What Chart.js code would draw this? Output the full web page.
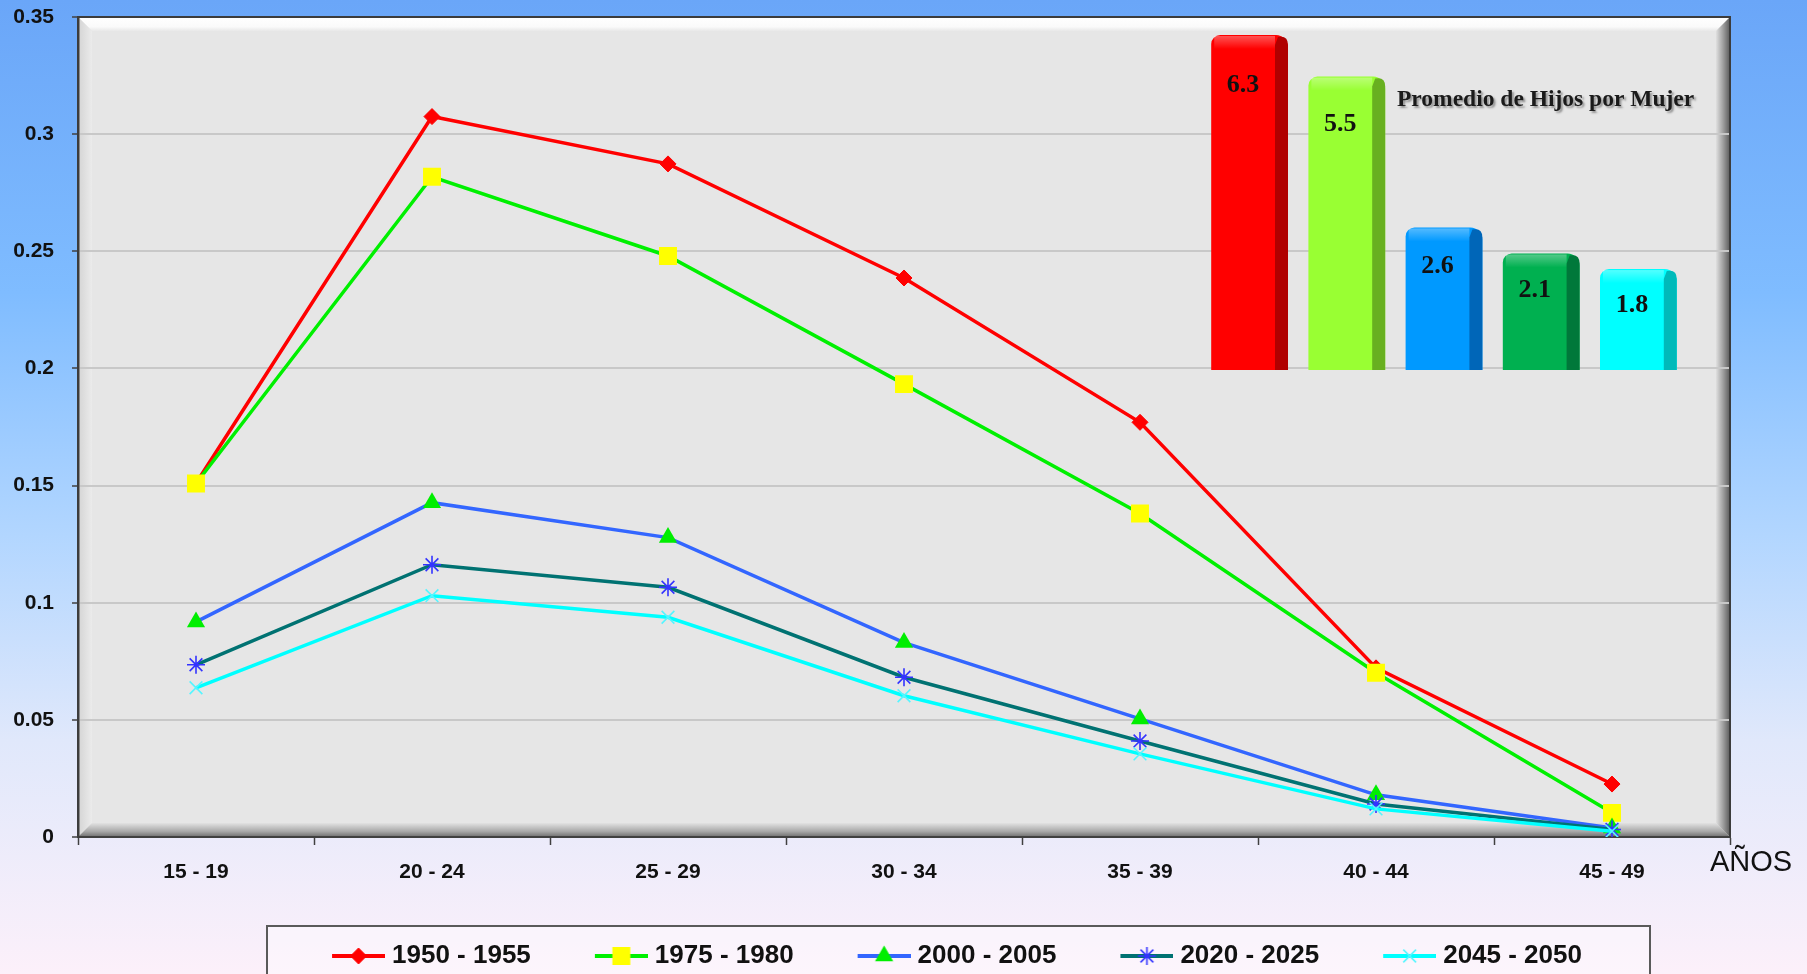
<!DOCTYPE html>
<html>
<head>
<meta charset="utf-8">
<title>Tasas de fecundidad por edad</title>
<script src="https://cdn.jsdelivr.net/npm/chart.js"></script>
<style>
    html, body {
        margin: 0;
        padding: 0;
    }
    body {
        width: 1807px;
        height: 974px;
        overflow: hidden;
        position: relative;
        background: linear-gradient(to bottom, #6aa6f8 0%, #7fbcff 30%, #b2d6ff 55%, #e0e8fb 76%, #fcf0fa 100%);
        font-family: "Liberation Sans", Arial, sans-serif;
    }
    #mainChart {
        position: absolute;
        left: 0;
        top: 0;
    }
    #insetChart {
        position: absolute;
        left: 1190px;
        top: 20px;
    }
</style>
</head>
<body>
<canvas id="mainChart" width="1807" height="974"></canvas>
<canvas id="insetChart" width="520" height="360"></canvas>
<script>
    // categories
    const ageGroups = ['15 - 19', '20 - 24', '25 - 29', '30 - 34', '35 - 39', '40 - 44', '45 - 49'];
    const periods = ['1950 - 1955', '1975 - 1980', '2000 - 2005', '2020 - 2025', '2045 - 2050'];

    // age specific fertility rates, one array per period
    const rates1950 = [0.151, 0.3075, 0.2873, 0.2386, 0.177, 0.0722, 0.0226];
    const rates1975 = [0.1509, 0.2818, 0.248, 0.1933, 0.1381, 0.0701, 0.0103];
    const rates2000 = [0.0918, 0.1427, 0.1278, 0.083, 0.0504, 0.018, 0.0038];
    const rates2020 = [0.0735, 0.1162, 0.1066, 0.0682, 0.041, 0.0141, 0.0032];
    const rates2045 = [0.0637, 0.103, 0.0938, 0.0603, 0.0355, 0.012, 0.0025];

    // y axis
    const yTickValues = [0, 0.05, 0.1, 0.15, 0.2, 0.25, 0.3, 0.35];

    // inset: average children per woman
    const avgChildren = [6.3, 5.5, 2.6, 2.1, 1.8];

    const seriesRates = [rates1950, rates1975, rates2000, rates2020, rates2045];
    const lineColors = ['#ff0000', '#00f000', '#3366ff', '#007272', '#00ffff'];
    const markerStyles = ['rectRot', 'rect', 'triangle', 'star', 'crossRot'];
    const markerSizes = [8, 12.7, 10.5, 9, 9];
    const markerFill = ['#ff0000', '#ffff00', '#00ee00', 'rgba(0,0,0,0)', 'rgba(0,0,0,0)'];
    const markerStroke = ['#ff0000', '#ffff00', '#00ee00', '#3333ff', '#55f5ff'];
    const markerBorder = [1, 0, 0, 1.6, 1.6];

    const barColors = ['#ff0000', '#99ff33', '#0099ff', '#00b050', '#00ffff'];
    const barSides = ['#b00000', '#68b020', '#0066b8', '#00783a', '#00baba'];

    const sansFont = '"Liberation Sans", Arial, sans-serif';
    const serifFont = '"Liberation Serif", "Times New Roman", serif';

    // small image (line + marker) used as the legend symbol
    function legendSymbol(i, boxWidth) {
        const c = document.createElement('canvas');
        c.width = boxWidth + 12;
        c.height = 28;
        const g = c.getContext('2d');
        const x0 = c.width - 53;
        g.strokeStyle = lineColors[i];
        g.lineWidth = 4;
        g.beginPath();
        g.moveTo(x0, 14);
        g.lineTo(c.width, 14);
        g.stroke();
        g.fillStyle = markerFill[i];
        g.strokeStyle = markerStroke[i];
        g.lineWidth = markerBorder[i] || 1;
        Chart.helpers.drawPoint(g, {
            pointStyle: markerStyles[i],
            radius: markerSizes[i],
            rotation: 0,
            borderWidth: markerBorder[i]
        }, x0 + 26.5, 14);
        return c;
    }

    const legendBoxWidth = 101;

    // 3D looking plot background, legend frame and the axis caption
    const framePlugin = {
        id: 'frame',
        beforeDraw(chart) {
            const ctx = chart.ctx;
            const a = chart.chartArea;
            const b = 14;
            ctx.save();
            ctx.fillStyle = '#e6e6e6';
            ctx.fillRect(a.left, a.top, a.right - a.left, a.bottom - a.top);

            let g = ctx.createLinearGradient(0, a.top, 0, a.top + b);
            g.addColorStop(0, '#ffffff');
            g.addColorStop(0.7, '#fafafa');
            g.addColorStop(1, '#e8e8e8');
            ctx.fillStyle = g;
            ctx.beginPath();
            ctx.moveTo(a.left, a.top);
            ctx.lineTo(a.right, a.top);
            ctx.lineTo(a.right - b, a.top + b);
            ctx.lineTo(a.left + b, a.top + b);
            ctx.closePath();
            ctx.fill();

            g = ctx.createLinearGradient(a.left, 0, a.left + b, 0);
            g.addColorStop(0, '#d4d4d4');
            g.addColorStop(1, '#ebebeb');
            ctx.fillStyle = g;
            ctx.beginPath();
            ctx.moveTo(a.left, a.top);
            ctx.lineTo(a.left + b, a.top + b);
            ctx.lineTo(a.left + b, a.bottom - b);
            ctx.lineTo(a.left, a.bottom);
            ctx.closePath();
            ctx.fill();

            g = ctx.createLinearGradient(0, a.bottom - b, 0, a.bottom);
            g.addColorStop(0, '#e2e2e2');
            g.addColorStop(0.6, '#a8a8a8');
            g.addColorStop(1, '#6e6e6e');
            ctx.fillStyle = g;
            ctx.beginPath();
            ctx.moveTo(a.left, a.bottom);
            ctx.lineTo(a.left + b, a.bottom - b);
            ctx.lineTo(a.right - b, a.bottom - b);
            ctx.lineTo(a.right, a.bottom);
            ctx.closePath();
            ctx.fill();

            g = ctx.createLinearGradient(a.right - b, 0, a.right, 0);
            g.addColorStop(0, '#e0e0e0');
            g.addColorStop(0.5, '#a0a0a0');
            g.addColorStop(1, '#5a5a5a');
            ctx.fillStyle = g;
            ctx.beginPath();
            ctx.moveTo(a.right, a.top);
            ctx.lineTo(a.right, a.bottom);
            ctx.lineTo(a.right - b, a.bottom - b);
            ctx.lineTo(a.right - b, a.top + b);
            ctx.closePath();
            ctx.fill();

            // legend frame
            ctx.fillStyle = 'rgba(255,255,255,0.35)';
            ctx.fillRect(267, 926, 1383, chart.height - 926);
            ctx.strokeStyle = '#5a5a5a';
            ctx.lineWidth = 2;
            ctx.strokeRect(267, 926, 1383, chart.height - 926 + 10);
            ctx.restore();
        },
        afterLayout(chart) {
            // legend sits a bit right of the page centre and slightly lower
            chart.legend.left += 65;
            chart.legend.right += 65;
            chart.legend.top += 5;
            chart.legend.bottom += 5;
        },
        afterDraw(chart) {
            const ctx = chart.ctx;
            const a = chart.chartArea;
            ctx.save();
            ctx.strokeStyle = '#3c3c3c';
            ctx.lineWidth = 2;
            ctx.beginPath();
            ctx.moveTo(a.left, a.top);
            ctx.lineTo(a.right, a.top);
            ctx.lineTo(a.right, a.bottom);
            ctx.stroke();
            ctx.fillStyle = '#111';
            ctx.font = '29px ' + sansFont;
            ctx.textBaseline = 'middle';
            ctx.textAlign = 'left';
            ctx.fillText('AÑOS', a.right - 20, a.bottom + 26);
            ctx.restore();
        }
    };

    new Chart(document.getElementById('mainChart'), {
        type: 'line',
        data: {
            labels: ageGroups,
            datasets: periods.map((p, i) => ({
                label: p,
                data: seriesRates[i],
                order: -i,
                borderColor: lineColors[i],
                backgroundColor: lineColors[i],
                borderWidth: 3.5,
                tension: 0,
                fill: false,
                pointStyle: markerStyles[i],
                pointRadius: markerSizes[i],
                pointHoverRadius: markerSizes[i],
                pointBackgroundColor: markerFill[i],
                pointBorderColor: markerStroke[i],
                pointBorderWidth: markerBorder[i]
            }))
        },
        options: {
            responsive: false,
            animation: false,
            devicePixelRatio: 1,
            layout: {
                padding: { top: 17, right: 77, left: 0, bottom: 0 }
            },
            scales: {
                x: {
                    offset: true,
                    grid: {
                        offset: true,
                        drawOnChartArea: false,
                        drawTicks: true,
                        tickLength: 8,
                        tickColor: '#404040',
                        tickWidth: 1.5
                    },
                    border: { color: '#404040', width: 2 },
                    ticks: {
                        padding: 15,
                        color: '#111',
                        maxRotation: 0,
                        font: { family: sansFont, size: 21, weight: 'bold' }
                    },
                    afterFit: (scale) => { scale.height = 91; }
                },
                y: {
                    min: 0,
                    max: 0.35,
                    afterBuildTicks: (scale) => {
                        scale.ticks = yTickValues.map(v => ({ value: v }));
                    },
                    grid: {
                        color: '#c8c8c8',
                        lineWidth: 2,
                        tickLength: 6,
                        tickColor: '#404040',
                        tickWidth: 1.5
                    },
                    border: { color: '#3c3c3c', width: 2.5 },
                    ticks: {
                        padding: 18,
                        color: '#111',
                        font: { family: sansFont, size: 21, weight: 'bold' },
                        callback: (v) => String(+Number(v).toFixed(2))
                    },
                    afterFit: (scale) => {
                        scale.width = 78;
                        // the top label may stick out above the frame
                        scale.paddingTop = 0;
                        scale.paddingBottom = 0;
                    }
                }
            },
            plugins: {
                tooltip: { enabled: false },
                legend: {
                    position: 'bottom',
                    labels: {
                        usePointStyle: true,
                        pointStyleWidth: legendBoxWidth,
                        padding: 10,
                        color: '#111',
                        font: { family: sansFont, size: 26, weight: 'bold' },
                        sort: (a, b) => a.datasetIndex - b.datasetIndex,
                        generateLabels: (chart) => {
                            const items = Chart.defaults.plugins.legend.labels.generateLabels(chart);
                            items.forEach(it => {
                                it.pointStyle = legendSymbol(it.datasetIndex, legendBoxWidth);
                            });
                            return items;
                        }
                    }
                }
            }
        },
        plugins: [framePlugin]
    });

    // inset: 3D looking bars with value labels and caption
    const barDecor = {
        id: 'barDecor',
        afterDatasetsDraw(chart) {
            const ctx = chart.ctx;
            const meta = chart.getDatasetMeta(0);
            ctx.save();
            meta.data.forEach((bar, i) => {
                const right = bar.x + bar.width / 2;
                const side = 13;
                ctx.fillStyle = barSides[i];
                ctx.beginPath();
                ctx.moveTo(right - side, bar.y + 10);
                ctx.lineTo(right - side + 3, bar.y + 2);
                ctx.quadraticCurveTo(right, bar.y, right, bar.y + 10);
                ctx.lineTo(right, bar.base);
                ctx.lineTo(right - side, bar.base);
                ctx.closePath();
                ctx.fill();

                const g = ctx.createLinearGradient(0, bar.y, 0, bar.y + 14);
                g.addColorStop(0, 'rgba(255,255,255,0.35)');
                g.addColorStop(1, 'rgba(255,255,255,0)');
                ctx.fillStyle = g;
                ctx.fillRect(bar.x - bar.width / 2 + 3, bar.y + 1, bar.width - side - 3, 13);

                ctx.fillStyle = '#111';
                ctx.font = 'bold 26px ' + serifFont;
                ctx.textAlign = 'center';
                ctx.textBaseline = 'middle';
                const labelY = bar.y + 0.06 * (bar.base - bar.y) + 30;
                ctx.fillText(String(avgChildren[i]), bar.x - side / 2, labelY);
            });

            ctx.font = 'bold 23.5px ' + serifFont;
            ctx.textAlign = 'left';
            ctx.textBaseline = 'middle';
            ctx.shadowColor = 'rgba(0,0,0,0.35)';
            ctx.shadowOffsetX = 2;
            ctx.shadowOffsetY = 2;
            ctx.shadowBlur = 2;
            ctx.fillStyle = '#1a1a1a';
            const xb = chart.scales.x.getPixelForValue(2) - 47;
            ctx.fillText('Promedio de Hijos por Mujer', xb, 80);
            ctx.restore();
        }
    };

    new Chart(document.getElementById('insetChart'), {
        type: 'bar',
        data: {
            labels: periods,
            datasets: [{
                label: 'Promedio de Hijos por Mujer',
                data: avgChildren,
                base: -0.14,
                backgroundColor: barColors,
                borderWidth: 0,
                borderRadius: { topLeft: 9, topRight: 12, bottomLeft: 0, bottomRight: 0 },
                borderSkipped: 'bottom',
                barPercentage: 0.79,
                categoryPercentage: 1
            }]
        },
        options: {
            responsive: false,
            animation: false,
            devicePixelRatio: 1,
            layout: {
                padding: { top: 15, right: 23, left: 11, bottom: 10 }
            },
            scales: {
                x: { display: false },
                y: { display: false, min: -0.14, max: 6.3 }
            },
            plugins: {
                legend: { display: false },
                tooltip: { enabled: false }
            }
        },
        plugins: [barDecor]
    });
</script>
</body>
</html>
